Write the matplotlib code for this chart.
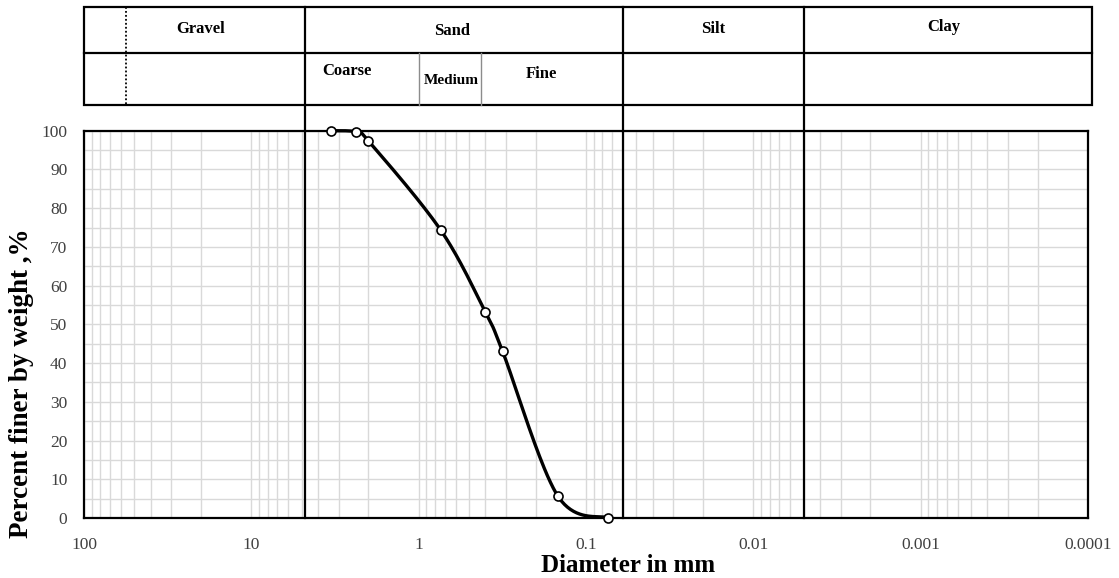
import numpy as np
import matplotlib.pyplot as plt
from matplotlib.lines import Line2D
from matplotlib.patches import Rectangle
from matplotlib.ticker import LogLocator, NullFormatter
from matplotlib.transforms import blended_transform_factory

plt.rcParams['font.family'] = ['Liberation Serif', 'DejaVu Serif']

# sieve analysis results
diameter_mm = [3.35, 2.36, 2.0, 0.74, 0.40, 0.315, 0.148, 0.0735]
percent_finer = [100.0, 99.7, 97.4, 74.4, 53.2, 43.0, 5.8, 0.0]

# classification boundaries (mm)
main_bounds = [4.75, 0.06, 0.005]
sand_bounds = [1.0, 0.425]
gravel_mark = 56.0

tick_values = [100, 10, 1, 0.1, 0.01, 0.001, 0.0001]
tick_labels = ['100', '10', '1', '0.1', '0.01', '0.001', '0.0001']
y_ticks = list(range(0, 101, 10))


def smooth_curve(x, y, n=40):
    # cubic bezier through the points (catmull-rom tangents) in log-x space
    pts = np.column_stack([np.log10(x), y])
    p = np.vstack([pts[0], pts, pts[-1]])
    t = np.linspace(0, 1, n)[:, None]
    segs = []
    for i in range(1, len(p) - 2):
        p0, p1, p2, p3 = p[i - 1], p[i], p[i + 1], p[i + 2]
        c1 = p1 + (p2 - p0) / 6
        c2 = p2 - (p3 - p1) / 6
        segs.append((1 - t) ** 3 * p1 + 3 * (1 - t) ** 2 * t * c1
                    + 3 * (1 - t) * t ** 2 * c2 + t ** 3 * p2)
    s = np.vstack(segs)
    return 10 ** s[:, 0], s[:, 1]


W, H = 1119, 578
fig = plt.figure(figsize=(W / 100, H / 100), dpi=100)


def fx(px):
    return px / W


def fy(py):
    return 1 - py / H


ax = fig.add_axes([fx(84), fy(518), fx(1088) - fx(84), fy(130.7) - fy(518)])
ax.set_xscale('log')

ax.set_xticks(tick_values, tick_labels)
ax.xaxis.set_minor_locator(LogLocator(base=10, subs=np.arange(2, 10)))
ax.xaxis.set_minor_formatter(NullFormatter())
ax.set_yticks(y_ticks)
ax.set_yticks(range(5, 100, 10), minor=True)
ax.grid(True, which='both', color='#d9d9d9', lw=1.0)
ax.set_axisbelow(True)
ax.tick_params(which='both', length=0, labelsize=12.5, labelcolor='#404040')
ax.tick_params(axis='x', pad=14)
ax.tick_params(axis='y', pad=12)
for sp in ax.spines.values():
    sp.set_linewidth(1.6)
    sp.set_color('black')

xs, ys = smooth_curve(diameter_mm, percent_finer)
ax.plot(xs, ys, color='black', lw=2.4, clip_on=False, zorder=5)
ax.plot(diameter_mm, percent_finer, 'o', mfc='white', mec='black', ms=6.5,
        mew=1.2, clip_on=False, zorder=6)

ax.set_xlim(100, 0.0001)
ax.set_ylim(0, 100)

ax.set_xlabel('Diameter in mm', fontsize=18, fontweight='bold', va='center')
ax.xaxis.set_label_coords((628 - 84) / 1004, (518 - 566) / 387.3)
ax.set_ylabel('Percent finer by weight ,%', fontsize=19.5, fontweight='bold',
              va='center')
ax.yaxis.set_label_coords((22 - 84) / 1004, (518 - 383) / 387.3)

# classification table above the plot
bt = blended_transform_factory(ax.transData, fig.transFigure)
fig.add_artist(Rectangle((fx(84), fy(105)), fx(1092) - fx(84), fy(7) - fy(105),
                         transform=fig.transFigure, fill=False, lw=1.6,
                         ec='black'))
fig.add_artist(Line2D([fx(84), fx(1092)], [fy(53), fy(53)],
                      transform=fig.transFigure, color='black', lw=1.6))
for b in main_bounds:
    fig.add_artist(Line2D([b, b], [fy(7), fy(518)], transform=bt,
                          color='black', lw=1.6, zorder=4))
for b in sand_bounds:
    fig.add_artist(Line2D([b, b], [fy(53), fy(105)], transform=bt,
                          color='#8c8c8c', lw=1.0))
fig.add_artist(Line2D([gravel_mark, gravel_mark], [fy(7), fy(105)],
                      transform=bt, color='black', lw=1.3, ls=(0, (1, 1.2))))

head = dict(ha='center', va='center', fontsize=12, fontweight='bold')
fig.text(fx(201), fy(29), 'Gravel', **head)
fig.text(fx(452), fy(31), 'Sand', **head)
fig.text(fx(713), fy(29), 'Silt', **head)
fig.text(fx(944), fy(27), 'Clay', **head)
fig.text(fx(347), fy(71), 'Coarse', **head)
fig.text(fx(451), fy(80), 'Medium', **{**head, 'fontsize': 11})
fig.text(fx(541), fy(74), 'Fine', **head)

fig.savefig('out.png', dpi=100)
